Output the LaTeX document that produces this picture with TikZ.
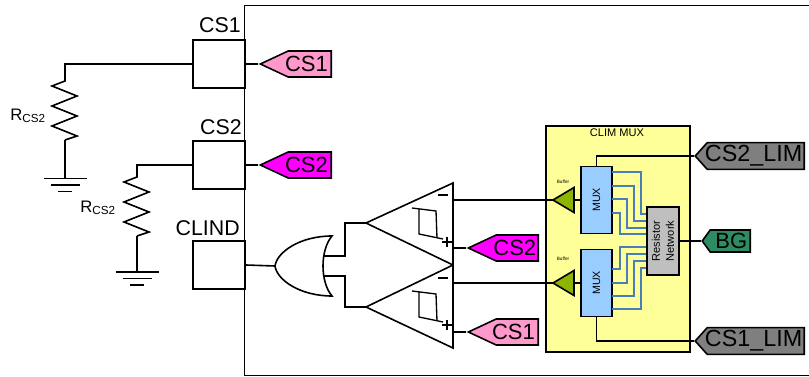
\documentclass[tikz,border=0pt]{standalone}
\usepackage{fontspec}
\setmainfont{Liberation Sans}
\usetikzlibrary{shapes.symbols}
\newcommand{\tagtext}[2]{\llap{#2\hspace{#1}}}
\tikzset{
  wire/.style={line width=1.2pt},
  bluewire/.style={line width=1.2pt,color=busblue},
  pinbox/.style={draw,line width=1.2pt,minimum width=39pt,minimum height=36pt,inner sep=0pt},
  pinlabel/.style={inner sep=0pt,font=\fontsize{16}{16}\selectfont},
  taglabel/.style={signal,signal to=west,signal pointer angle=50,draw,line width=1.2pt,
    anchor=east,minimum height=19.5pt,inner sep=0pt,align=right,font=\fontsize{16.5}{16.5}\selectfont},
  blockbox/.style={draw,line width=1.3pt,inner sep=0pt},
}
\definecolor{busblue}{HTML}{4A7EBB}
\definecolor{tagpink}{HTML}{FF99CC}
\definecolor{tagmagenta}{HTML}{FF00FF}
\definecolor{taggrey}{HTML}{7F7F7F}
\definecolor{taggreen}{HTML}{2E8B62}
\definecolor{muxyellow}{HTML}{FFFF99}
\definecolor{muxblue}{HTML}{99CCFF}
\definecolor{netgrey}{HTML}{BFBFBF}
\definecolor{bufgreen}{HTML}{8CB400}
\begin{document}
\begin{tikzpicture}[x=0.75pt,y=0.75pt,yscale=-1,xscale=1]
\useasboundingbox (0,0) rectangle (809,377);

%device outline
\draw [line width=0.75pt] (809,5.5) -- (244.5,5.5) -- (244.5,375) -- (809,375);

%pin boxes
\node [pinbox] (pincsa) at (219,64) {};
\node [pinbox] (pincsb) at (219,165) {};
\node [pinbox] (pinclind) at (219,265) {};
\node [pinlabel,anchor=east] (namecsa) at (241,25) {CS1};
\node [pinlabel,anchor=east] (namecsb) at (242,127) {CS2};
\node [pinlabel,anchor=east] (nameclind) at (240,228) {CLIND};

%tags
\node [taglabel,fill=tagpink,text width=32.25pt] (tagcsa) at (332,64) {\tagtext{2.5pt}{CS1}};
\node [taglabel,fill=tagmagenta,text width=32.25pt] (tagcsb) at (332,165) {\tagtext{2.5pt}{CS2}};
\node [taglabel,fill=tagmagenta,text width=31.5pt] (tagcompb) at (539,248) {\tagtext{1.5pt}{CS2}};
\node [taglabel,fill=tagpink,text width=31.5pt] (tagcompa) at (539,332) {\tagtext{2.5pt}{CS1}};
\node [taglabel,fill=taggrey,signal pointer angle=96,text width=72.75pt,minimum height=20pt,font=\fontsize{17.5}{17.5}\selectfont] (taglimb) at (805,156) {\tagtext{1.5pt}{CS2\_LIM}};
\node [taglabel,fill=taggrey,signal pointer angle=96,text width=72.75pt,minimum height=20pt,font=\fontsize{17.5}{17.5}\selectfont] (limtaga) at (805,341) {\tagtext{1.5pt}{CS1\_LIM}};
\node [taglabel,fill=taggreen,signal pointer angle=108,text width=30pt,minimum height=16.5pt] (tagbg) at (751,241) {\tagtext{2.25pt}{BG}};
\draw [wire] (pincsa.east) -- (tagcsa.west);
\draw [wire] (pincsb.east) -- (tagcsb.west);

%external resistors
\coordinate (resa) at (65,81);
\coordinate (resb) at (137,177);
\draw [wire] (pincsa.west) -| (resa) -- ++(-13,5) -- ++(25,10) -- ++(-25,10) -- ++(25,10) -- ++(-25,10) -- ++(25,10) -- ++(-12,4) coordinate (resaend);
\draw [wire] (pincsb.west) -| (resb) -- ++(-13,5) -- ++(25,10) -- ++(-25,10) -- ++(25,10) -- ++(-25,10) -- ++(25,10) -- ++(-12,4) coordinate (resbend);
\draw [wire] (resaend) -- (65,178.5) coordinate (gnda);
\draw [wire] (resbend) -- (137,272) coordinate (gndb);
\foreach \gnd in {gnda,gndb} {
  \draw [wire] (\gnd) +(-21.5,0) -- +(21.5,0);
  \draw [wire] (\gnd) +(-14.5,6.5) -- +(14.5,6.5);
  \draw [wire] (\gnd) +(-7,13) -- +(7,13);
}
\node [inner sep=0pt,anchor=east,font=\fontsize{12.5}{12.5}\selectfont] (resalabel) at (46,116) {R\textsubscript{CS2}};
\node [inner sep=0pt,anchor=east,font=\fontsize{12.5}{12.5}\selectfont] (resblabel) at (116,208) {R\textsubscript{CS2}};

%or gate
\coordinate (ortip) at (275,266);
\draw [wire] (332,236) .. controls (320,250) and (320,282) .. (332,296) .. controls (300,296) and (277,280) .. (ortip) .. controls (277,252) and (300,236) .. cycle;
\draw [wire] (pinclind.east) -- (ortip);

%comparators
\coordinate (cmpb) at (366,223);
\coordinate (cmpa) at (366,307);
\draw [wire] (cmpb) -- (453,183) -- (453,265) -- cycle;
\draw [wire] (cmpa) -- (453,265) -- (453,348) -- cycle;
\draw [wire] (323.5,256) -- (345,256) |- (cmpb);
\draw [wire] (323.5,276) -- (345,276) |- (cmpa);
\draw [line width=1pt] (412,208) -- (436,211) -- (437,238) (419,209) -- (419,234) -- (443,239);
\draw [line width=1pt] (412,291) -- (436,294) -- (437,321) (419,292) -- (419,317) -- (443,322);
\draw [line width=0.9pt] (438,195) -- (448,195) (438,278) -- (448,278);
\draw [line width=0.9pt] (442,242) -- (452,242) (447,237) -- (447,247) (442,325) -- (452,325) (447,320) -- (447,330);
\draw [wire] (453,248) -- (tagcompb.west);
\draw [wire] (453,332) -- (tagcompa.west);

%clim mux block
\node [blockbox,fill=muxyellow,minimum width=108pt,minimum height=169.5pt] (climmux) at (618,239) {};
\node [inner sep=0pt,font=\fontsize{8.3}{8.3}\selectfont] (climlabel) at (617,133) {CLIM MUX};
\node [blockbox,fill=muxblue,minimum width=23.25pt,minimum height=50.25pt] (muxb) at (596.5,200) {};
\node [blockbox,fill=muxblue,minimum width=23.25pt,minimum height=50.25pt] (muxa) at (596.5,283) {};
\node [rotate=90,inner sep=0pt,font=\fontsize{8}{8}\selectfont] (muxbtext) at (596.5,200) {MUX};
\node [rotate=90,inner sep=0pt,font=\fontsize{8}{8}\selectfont] (muxatext) at (596.5,283) {MUX};

%resistor network taps
\draw [bluewire] (612,172) -- (641,172) -- (641,214) -- (651,214);
\draw [bluewire] (612,186) -- (634,186) -- (634,221) -- (651,221);
\draw [bluewire] (612,199) -- (627,199) -- (627,228) -- (651,228);
\draw [bluewire] (612,213) -- (620,213) -- (620,234) -- (651,234);
\draw [bluewire] (612,269) -- (620,269) -- (620,247) -- (651,247);
\draw [bluewire] (612,283) -- (627,283) -- (627,254) -- (651,254);
\draw [bluewire] (612,296) -- (634,296) -- (634,261) -- (651,261);
\draw [bluewire] (612,309) -- (641,309) -- (641,268) -- (651,268);
\node [blockbox,fill=netgrey,minimum width=24pt,minimum height=51pt] (resnet) at (663,241) {};
\node [rotate=90,inner sep=0pt,align=center,font=\fontsize{8.3}{10.5}\selectfont] (resnettext) at (663,241) {Resistor\\Network};

%buffers
\coordinate (bufb) at (553,200);
\coordinate (bufa) at (553,283);
\draw [wire,fill=bufgreen] (bufb) -- (574,187.5) -- (574,212.5) -- cycle;
\draw [wire,fill=bufgreen] (bufa) -- (574,270.5) -- (574,295.5) -- cycle;
\draw [wire] (574,200) -- (muxb.west);
\draw [wire] (574,283) -- (muxa.west);
\draw [wire] (453,200) -- (bufb);
\draw [wire] (453,283) -- (bufa);
\node [inner sep=0pt,font=\fontsize{3.5}{3.5}\selectfont] (bufblabel) at (563,182) {Buffer};
\node [inner sep=0pt,font=\fontsize{3.5}{3.5}\selectfont] (bufalabel) at (563,259) {Buffer};

%limit and bandgap inputs
\draw [wire] (muxb.north) |- (taglimb.west);
\draw [wire] (muxa.south) |- (limtaga.west);
\draw [wire] (resnet.east) -- (tagbg.west);
\end{tikzpicture}
\end{document}
